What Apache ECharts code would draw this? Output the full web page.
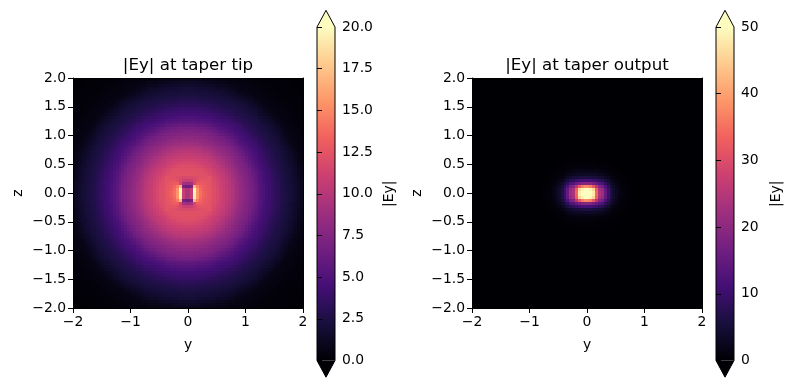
<!DOCTYPE html>
<html><head><meta charset="utf-8">
<style>html,body{margin:0;padding:0;background:#fff}#c{width:792px;height:387px}</style>
<script src="https://cdn.jsdelivr.net/npm/echarts@6/dist/echarts.min.js"></script>
</head><body><div id="c"></div>
<script>
// Colour scale stops (magma)
const magma = ['#000004','#180f3d','#440f76','#721f81','#9e2f7f','#cd4071','#f1605d','#fd9668','#feca8d','#fcfdbf'];

// |Ey| at taper tip. Quadrant upper triangle, row = |z| cell, entries start at |y| cell = row.
const tipField = [
[12.4,12.4,12.4,12.4,12.4,12.4,12.3,12.3,12.2,12,11.7,11.3,10.9,10.6,10.2,9.8,9.3,8.9,8.4,8,7.6,7.2,6.8,6.2,5.7,5.2,4.8,4.4,4.1,3.8,3.4,3.1,2.8,2.5,2.3,2.1,1.9,1.6,1.3,.95],
[12.4,12.4,12.4,12.4,12.4,12.3,12.3,12.2,12,11.7,11.3,10.9,10.6,10.2,9.8,9.3,8.9,8.4,8,7.6,7.2,6.8,6.2,5.7,5.2,4.8,4.4,4.1,3.8,3.4,3.1,2.8,2.5,2.3,2.1,1.9,1.6,1.3,.95],
[12.4,12.4,12.4,12.4,12.3,12.3,12.1,12,11.6,11.2,10.8,10.5,10.1,9.7,9.2,8.8,8.3,7.9,7.5,7.1,6.8,6.2,5.7,5.2,4.8,4.4,4.1,3.7,3.4,3.1,2.8,2.5,2.3,2.1,1.9,1.6,1.3,.9],
[12.4,12.4,12.3,12.3,12.2,12.1,11.9,11.5,11.1,10.7,10.4,10,9.6,9.1,8.7,8.3,7.9,7.5,7.1,6.7,6,5.5,5.1,4.7,4.3,4,3.7,3.3,3,2.7,2.5,2.2,2,1.8,1.5,1.2,.9],
[12.3,12.3,12.3,12.2,12,11.7,11.4,11,10.7,10.3,9.9,9.5,9.1,8.6,8.2,7.8,7.4,7,6.5,6,5.5,5,4.6,4.3,4,3.7,3.3,3,2.7,2.4,2.2,2,1.8,1.5,1.2,.9],
[12.3,12.2,12.1,11.9,11.5,11.2,10.8,10.5,10.2,9.8,9.3,8.9,8.5,8.1,7.7,7.3,6.9,6.5,5.9,5.4,5,4.6,4.2,3.9,3.6,3.2,2.9,2.7,2.4,2.2,2,1.8,1.5,1.1,.8],
[12.1,11.9,11.6,11.3,11,10.7,10.4,10,9.6,9.2,8.8,8.3,7.9,7.6,7.2,6.8,6.3,5.8,5.3,4.9,4.5,4.2,3.9,3.5,3.2,2.9,2.6,2.4,2.2,2,1.7,1.4,1.1,.8],
[11.6,11.4,11.1,10.8,10.5,10.2,9.8,9.4,9,8.6,8.2,7.8,7.4,7.1,6.7,6.1,5.7,5.2,4.8,4.4,4.1,3.8,3.4,3.1,2.8,2.5,2.3,2.1,1.9,1.7,1.4,1,.8],
[11.1,10.8,10.6,10.3,10,9.6,9.2,8.8,8.4,8,7.6,7.3,7,6.5,5.9,5.4,5,4.6,4.3,4,3.7,3.3,3,2.8,2.5,2.3,2.1,1.9,1.6,1.3,.95,.7],
[10.6,10.4,10,9.7,9.3,8.9,8.6,8.2,7.8,7.4,7.1,6.8,6.2,5.8,5.2,4.9,4.5,4.2,3.9,3.6,3.2,2.9,2.7,2.4,2.2,2,1.8,1.6,1.2,.9,.7],
[10.1,9.7,9.4,9,8.6,8.3,7.9,7.6,7.2,6.9,6.5,6,5.5,5,4.7,4.4,4.1,3.8,3.4,3.2,2.9,2.6,2.4,2.2,2,1.8,1.4,1.1,.8,.65],
[9.4,9.1,8.7,8.4,8,7.7,7.4,7,6.7,6.1,5.7,5.2,4.9,4.5,4.2,3.9,3.7,3.3,3,2.8,2.5,2.3,2.1,1.9,1.7,1.4,1,.8,.6],
[8.8,8.5,8.2,7.9,7.5,7.2,6.8,6.5,6,5.5,5,4.7,4.4,4.1,3.8,3.5,3.2,2.9,2.6,2.4,2.2,2,1.8,1.6,1.3,.95,.7,.6],
[8.2,7.9,7.6,7.2,7,6.6,6.1,5.7,5.3,4.9,4.6,4.3,4,3.7,3.4,3.1,2.8,2.6,2.4,2.2,2,1.8,1.5,1.2,.9,.7,.55],
[7.6,7.3,7,6.6,6.3,5.9,5.4,5,4.7,4.4,4.2,3.9,3.6,3.2,3,2.7,2.5,2.3,2.1,1.9,1.7,1.4,1,.8,.6,.5],
[7,6.7,6.3,6,5.5,5.2,4.9,4.5,4.3,4,3.7,3.4,3.1,2.9,2.6,2.4,2.2,2,1.8,1.5,1.3,.95,.7,.6,.5],
[6.3,6,5.6,5.2,4.9,4.6,4.3,4,3.8,3.5,3.2,2.9,2.7,2.5,2.3,2.1,1.9,1.7,1.4,1.1,.8,.65,.55,.5],
[5.6,5.2,5,4.7,4.4,4.2,3.9,3.7,3.3,3.1,2.8,2.6,2.4,2.2,2,1.8,1.5,1.2,.95,.7,.6,.5,.45],
[4.9,4.7,4.4,4.2,3.9,3.7,3.4,3.1,2.9,2.7,2.4,2.2,2.1,1.9,1.7,1.4,1.1,.8,.65,.55,.5,.4],
[4.4,4.2,3.9,3.7,3.4,3.2,2.9,2.7,2.5,2.3,2.2,2,1.8,1.5,1.2,.9,.7,.6,.5,.45,.38],
[3.9,3.7,3.4,3.2,3,2.8,2.5,2.4,2.2,2,1.9,1.6,1.3,1,.8,.65,.55,.5,.4,.35],
[3.4,3.2,3,2.8,2.6,2.4,2.2,2.1,1.9,1.7,1.5,1.2,.9,.7,.6,.5,.45,.38,.32],
[3,2.8,2.6,2.4,2.3,2.1,2,1.8,1.5,1.3,1,.8,.6,.55,.5,.4,.35,.3],
[2.6,2.4,2.3,2.2,2,1.8,1.6,1.3,1.1,.8,.65,.55,.5,.42,.37,.3,.28],
[2.3,2.2,2,1.8,1.6,1.4,1.1,.9,.7,.6,.5,.48,.4,.35,.3,.25],
[2,1.8,1.6,1.4,1.2,.9,.7,.6,.55,.5,.4,.35,.3,.28,.24],
[1.6,1.4,1.2,.95,.75,.65,.55,.5,.42,.38,.32,.28,.25,.22],
[1.2,.9,.75,.65,.55,.5,.45,.4,.35,.3,.25,.22,.19],
[.75,.65,.55,.5,.45,.4,.35,.3,.27,.23,.2,.17],
[.55,.5,.45,.42,.37,.33,.28,.25,.22,.19,.16],
[.45,.4,.35,.32,.28,.25,.22,.19,.16,.14],
[.35,.32,.28,.25,.22,.19,.16,.14,.12],
[.28,.25,.22,.19,.16,.14,.12,.1],
[.22,.19,.16,.14,.12,.1,.09],
[.16,.14,.12,.1,.09,.08],
[.12,.1,.09,.08,.07],
[.09,.08,.07,.06],
[.07,.06,.05],
[.05,.05],
[.04]
];
// Core of the taper tip: row = |z| cell, column = |y| cell
const tipCore = [
[9.5,10.8,19.5,15.5,14,13.3,12.9,12.6],
[9.5,10.8,19.5,15.5,13.8,13.2,12.8,12.6],
[6.5,7,17,14.5,13.5,13,12.7,12.5],
[8.8,9.2,11.5,13,13,12.8,12.6,12.4],
[10.8,11,11.6,12.2,12.5,12.5,12.4,12.4],
[11.8,11.8,11.9,12,12.2,12.3,12.3,12.4]
];
// |Ey| at taper output: row = |z| cell, column = |y| cell; anything further out reads as 0
const outputField = [
[50,50,48,34,24,22,15,10.5,6.5,4.2,2.6,1.5,.9,.5,.25,.1],
[50,49,46,33,23,21,14.5,10,6.3,4,2.5,1.4,.8,.45,.2,.1],
[38,36,32,25,19,17,12,8.5,5.3,3.4,2.1,1.2,.7,.4,.2,.1],
[19,18.5,17,15,13,12,8.5,6,3.8,2.5,1.5,.9,.5,.3,.15,.05],
[11.5,11.2,10.5,9.5,8.3,7.5,5.5,3.9,2.5,1.6,1,.6,.35,.2,.1],
[6,5.9,5.6,5.2,4.7,4.2,3.2,2.3,1.5,1,.6,.35,.2,.1,.05],
[3.4,3.3,3.2,3,2.7,2.4,1.9,1.4,.9,.6,.35,.2,.1,.05],
[2,2,1.9,1.8,1.6,1.4,1.1,.8,.55,.35,.2,.1,.05],
[1.1,1.1,1,1,.9,.8,.6,.45,.3,.2,.1,.05],
[.6,.6,.6,.55,.5,.45,.35,.25,.15,.1,.05],
[.35,.35,.3,.3,.25,.25,.2,.15,.1,.05],
[.2,.2,.2,.15,.15,.1,.1,.05],
[.1,.1,.1,.1,.05]
];
const titles = ['|Ey| at taper tip','|Ey| at taper output'];
const xTitle = 'y', yTitle = 'z', barTitle = '|Ey|';
const barRanges = [[0,20,2.5,1,47],[0,50,10,0,35]]; // min, max, step, label decimals, name gap

const N = 40, STEP = .05;
function tipAt(i,j){
  if(i<tipCore.length && j<tipCore[0].length) return tipCore[i][j];
  const v = i<=j ? tipField[i][j-i] : tipField[j][i-j];
  return v===undefined ? 0 : v;
}
function outputAt(i,j){ const r = outputField[i]; return r && r[j]!==undefined ? r[j] : 0; }
function mirror(at){
  const out=[];
  for(let r=0;r<2*N;r++){ const i=r<N?N-1-r:r-N;
    for(let c=0;c<2*N;c++){ const j=c<N?N-1-c:c-N; out.push([(c-N+.5)*STEP,(r-N+.5)*STEP,at(i,j)]); } }
  return out;
}
const FONT='DejaVu Sans', INK='#000';
const minus=s=>String(s).replace('-','\u2212');
const grids=[
  {left:73,top:78,width:230,height:230,outerBoundsMode:'none'},
  {left:472,top:78,width:230,height:230,outerBoundsMode:'none'},
  {left:317,top:27,width:18,height:333.5,outerBoundsMode:'none'},
  {left:716,top:27,width:18,height:333.5,outerBoundsMode:'none'}
];
const label={color:INK,fontFamily:FONT,fontSize:13.9,margin:7};
const tick={show:true,length:5,lineStyle:{color:INK,width:1}};
const line={show:true,onZero:false,lineStyle:{color:INK,width:1}};
const name={color:INK,fontFamily:FONT,fontSize:13.9};
const xAxis=[],yAxis=[];
const range={type:'value',min:-2,max:2,z:5,splitLine:{show:false}};
[0,1].forEach(g=>{
  xAxis.push({...range,gridIndex:g,position:'top',interval:1,axisLine:line,axisTick:{show:false},axisLabel:{show:false}});
  xAxis.push({...range,gridIndex:g,position:'bottom',interval:1,axisLine:line,axisTick:tick,
    axisLabel:{...label,formatter:v=>minus(v)},name:xTitle,nameLocation:'middle',nameGap:30,nameTextStyle:name});
  yAxis.push({...range,gridIndex:g,position:'right',interval:.5,axisLine:line,axisTick:{show:false},axisLabel:{show:false}});
  yAxis.push({...range,gridIndex:g,position:'left',interval:.5,axisLine:line,axisTick:tick,
    axisLabel:{...label,formatter:v=>minus(v.toFixed(1))},name:yTitle,nameLocation:'middle',nameGap:48,nameTextStyle:name});
});
barRanges.forEach((b,k)=>{
  xAxis.push({type:'value',gridIndex:2+k,min:0,max:1,show:false});
  yAxis.push({type:'value',gridIndex:2+k,position:'right',min:b[0],max:b[1],interval:b[2],z:5,
    axisLine:{show:false},axisTick:tick,splitLine:{show:false},
    axisLabel:{...label,formatter:v=>v.toFixed(b[3])},
    name:barTitle,nameLocation:'middle',nameRotate:90,nameGap:b[4],nameTextStyle:name});
});
const stops=magma.map((c,i)=>({offset:1-i/(magma.length-1),color:c}));
function barSeries(k){
  const b=barRanges[k], ext=(b[1]-b[0])*.05;
  return {type:'custom',xAxisIndex:4+k,yAxisIndex:4+k,coordinateSystem:'cartesian2d',silent:true,clip:false,z:3,
    data:[[1,b[1]]],
    renderItem:(p,api)=>{
      const P=(x,y)=>api.coord([x,y]);
      const tl=P(0,b[1]),br=P(1,b[0]),tr=P(1,b[1]),bl=P(0,b[0]),up=P(.5,b[1]+ext),dn=P(.5,b[0]-ext);
      return {type:'group',children:[
        {type:'rect',shape:{x:tl[0],y:tl[1],width:br[0]-tl[0],height:br[1]-tl[1]},
          style:{fill:new echarts.graphic.LinearGradient(0,0,0,1,stops)}},
        {type:'polygon',shape:{points:[tl,up,tr]},style:{fill:magma[magma.length-1]}},
        {type:'polygon',shape:{points:[bl,dn,br]},style:{fill:magma[0]}},
        {type:'polygon',shape:{points:[tl,up,tr,br,dn,bl]},style:{fill:'none',stroke:INK,lineWidth:1}}
      ]};
    }};
}
function cellRect(p,api){
  const x=api.value(0),y=api.value(1),h=STEP/2;
  const a=api.coord([x-h,y+h]),b=api.coord([x+h,y-h]);
  const l=Math.floor(a[0]),t=Math.floor(a[1]);
  return {type:'rect',shape:{x:l,y:t,width:Math.ceil(b[0])-l,height:Math.ceil(b[1])-t},style:{fill:api.visual('color')}};
}
const heat=(g,data)=>({type:'custom',xAxisIndex:2*g+1,yAxisIndex:2*g+1,coordinateSystem:'cartesian2d',data,encode:{x:0,y:1},
  progressive:0,silent:true,clip:true,animation:false,z:1,renderItem:cellRect});
const chart=echarts.init(document.getElementById('c'),null,{renderer:'canvas'});
chart.setOption({
  animation:false,backgroundColor:'#fff',
  title:titles.map((t,k)=>({text:t,left:grids[k].left+115,top:57,padding:0,textAlign:'center',textStyle:{color:INK,fontFamily:FONT,fontSize:16.67,fontWeight:'normal'}})),
  grid:grids,xAxis,yAxis,
  visualMap:[0,1].map(k=>({show:false,type:'continuous',seriesIndex:k,dimension:2,min:barRanges[k][0],max:barRanges[k][1],inRange:{color:magma}})),
  series:[heat(0,mirror(tipAt)),heat(1,mirror(outputAt)),barSeries(0),barSeries(1)]
});
</script></body></html>
